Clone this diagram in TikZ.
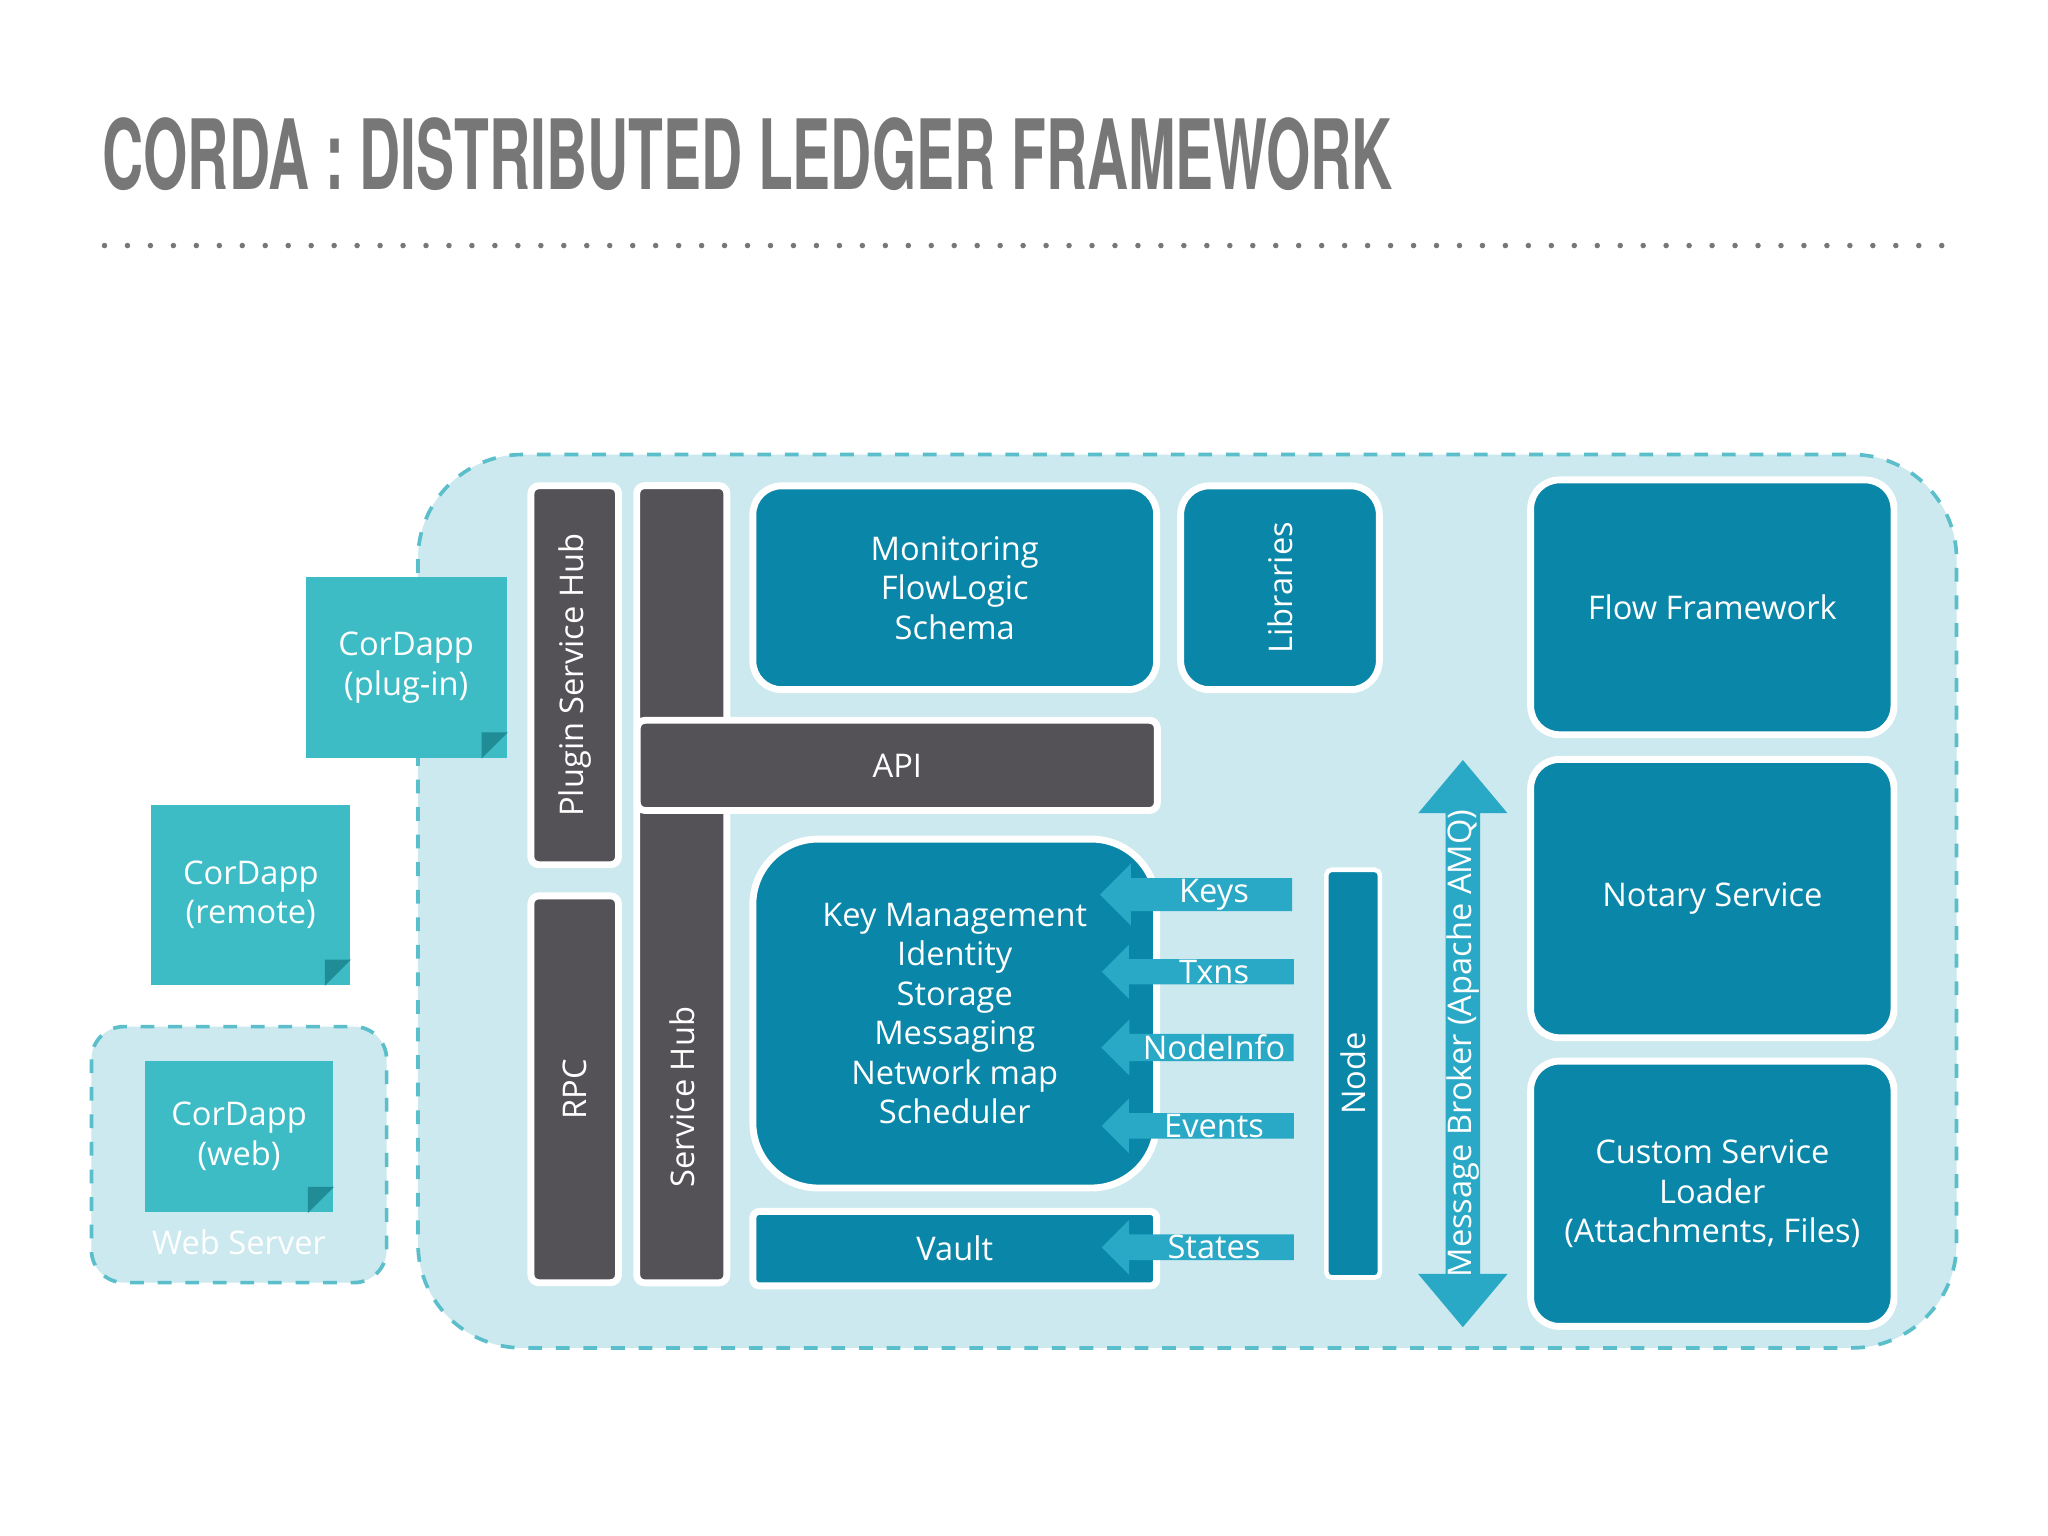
\documentclass[tikz,border=0pt]{standalone}
\usepackage{fontspec}
\setmainfont{Open Sans}
\newfontfamily\titlefont{TeX Gyre Heros}
\usetikzlibrary{shapes.arrows, calc}
\definecolor{bgcyan}{HTML}{CBE9EE}
\definecolor{bordercyan}{HTML}{5BBFCB}
\definecolor{darkblue}{HTML}{0A86A8}
\definecolor{darkgray}{HTML}{545257}
\definecolor{teal}{HTML}{3DBCC6}
\definecolor{tealdark}{HTML}{1F8C96}
\definecolor{arrowcyan}{HTML}{2AA9C6}
\definecolor{titlegray}{HTML}{777777}
\begin{document}
\begin{tikzpicture}[x=0.01cm, y=-0.01cm,
  lbl/.style={text=white, font=\fontsize{7.1}{8.6}\selectfont, align=center},
  box/.style={lbl, fill=darkblue, draw=white, line width=1.5pt, rounded corners=0.22cm, inner sep=0pt},
  bar/.style={lbl, fill=darkgray, draw=white, line width=1.5pt, rounded corners=0.06cm, inner sep=0pt},
  note/.style={lbl, fill=teal, inner sep=0pt},
  tag/.style={lbl, fill=arrowcyan, single arrow, shape border rotate=180, minimum width=0.28cm,
    single arrow head extend=0.11cm, single arrow tip angle=90, minimum height=1.47cm, inner sep=0pt}]
\useasboundingbox[fill=white] (0,0) rectangle (1568,1176);

% title
\node[anchor=west, text=titlegray, inner sep=0pt] (title) at (78,118)
  {\resizebox{9.87cm}{0.55cm}{\titlefont\bfseries CORDA : DISTRIBUTED LEDGER FRAMEWORK}};
\coordinate (d1) at (80,188);
\coordinate (d2) at (1490,188);
\draw[titlegray, line width=1.2pt, dash pattern=on 0pt off 5pt, line cap=round] (d1) -- (d2);

% containers
\draw[bordercyan, fill=bgcyan, dashed, line width=0.8pt, rounded corners=0.8cm] (320,348) rectangle (1498,1032);
\draw[bordercyan, fill=bgcyan, dashed, line width=0.8pt, rounded corners=0.25cm] (70,786) rectangle (296,982);

% CorDapps
\node[note, minimum width=1.54cm, minimum height=1.38cm] (plug) at (311,511) {CorDapp\\(plug-in)};
\node[note, minimum width=1.52cm, minimum height=1.38cm] (remote) at (192,685) {CorDapp\\(remote)};
\node[note, minimum width=1.44cm, minimum height=1.16cm] (web) at (183,870) {CorDapp\\(web)};
\foreach \n in {plug, remote, web}
  \fill[tealdark] ($(\n.south east)+(0,-20)$) -- ($(\n.south east)+(-20,0)$) -- ($(\n.south east)+(-20,-20)$) -- cycle;
\node[text=white, font=\fontsize{7.1}{8.6}\selectfont] (ws) at (183,951) {Web Server};

% gray bars
\node[bar, minimum width=0.67cm, minimum height=2.9cm] (psh) at (440,517) {\rotatebox{90}{Plugin Service Hub}};
\node[bar, minimum width=0.67cm, minimum height=2.96cm] (rpc) at (440,834) {\rotatebox{90}{RPC}};
\node[bar, minimum width=0.69cm, minimum height=6.1cm] (sh) at (522,677) {};
\node[lbl] at (522,840) {\rotatebox{90}{Service Hub}};
\node[bar, minimum width=3.98cm, minimum height=0.69cm] (api) at (687,586) {API};

% blue boxes
\node[box, minimum width=3.09cm, minimum height=1.56cm] (mon) at (731,450) {Monitoring\\FlowLogic\\Schema};
\node[box, minimum width=1.52cm, minimum height=1.56cm] (lib) at (980,450) {\rotatebox{90}{Libraries}};
\node[box, minimum width=2.78cm, minimum height=1.95cm] (flow) at (1311,465) {Flow Framework};
\node[box, minimum width=2.78cm, minimum height=2.13cm] (notary) at (1311,688) {Notary Service};
\node[box, minimum width=2.78cm, minimum height=2.03cm] (custom) at (1311,914) {Custom Service\\Loader\\(Attachments, Files)};
\node[box, rounded corners=0.5cm, minimum width=3.09cm, minimum height=2.67cm] (key) at (731,776) {};
\node[lbl] at (731,776) {Key Management\\Identity\\Storage\\Messaging\\Network map\\Scheduler};
\node[box, rounded corners=0.05cm, minimum width=3.09cm, minimum height=0.57cm] (vault) at (731,956) {Vault};
\node[box, rounded corners=0.04cm, line width=1pt, minimum width=0.41cm, minimum height=3.12cm] (node) at (1036,822) {\rotatebox{90}{Node}};

% arrows
\node[tag] (keys) at (922,685) {\hspace{0.15cm}Keys};
\node[tag] (txns) at (922,744) {\hspace{0.15cm}Txns};
\node[tag] (ninfo) at (922,802) {\hspace{0.15cm}NodeInfo};
\node[tag] (events) at (922,862) {\hspace{0.15cm}Events};
\node[tag] (states) at (922,955) {\hspace{0.15cm}States};
\node[lbl, fill=arrowcyan, double arrow, rotate=90, minimum width=0.42cm, minimum height=4.34cm,
  double arrow head extend=0.21cm, double arrow tip angle=80, inner sep=0pt] (mb) at (1120,799)
  {Message Broker (Apache AMQ)};
\end{tikzpicture}
\end{document}
